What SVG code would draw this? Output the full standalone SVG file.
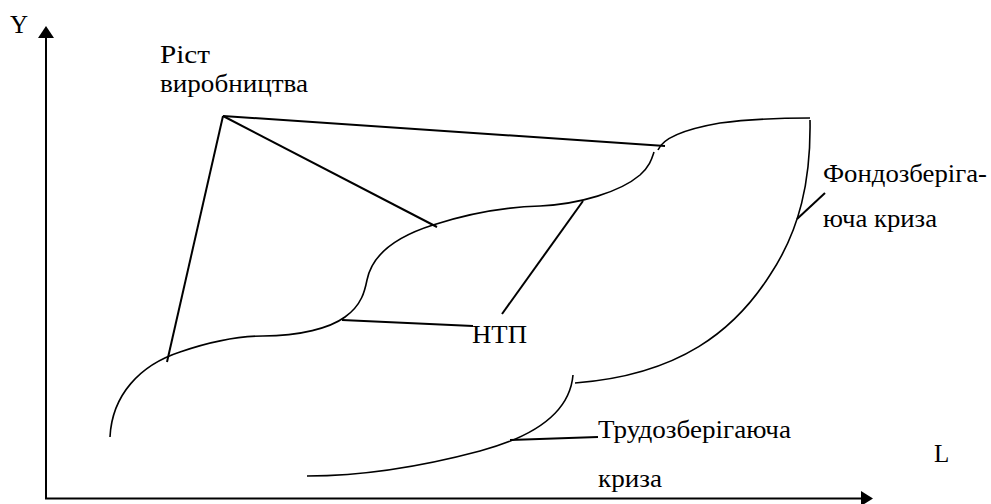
<svg xmlns="http://www.w3.org/2000/svg" width="991" height="504" viewBox="0 0 991 504">
<style>
.t{font-family:"Liberation Serif","Times New Roman",serif;font-size:25px;fill:#000}
.c{fill:none;stroke:#000;stroke-width:1.6}
.l{fill:none;stroke:#000;stroke-width:2}
</style>
<rect width="991" height="504" fill="#fff"/>
<g id="axes">
<line class="l" x1="46" y1="499" x2="46" y2="36"/>
<polygon points="38,38 46,26 54,38" fill="#000"/>
<line class="l" x1="45" y1="498.5" x2="863" y2="498.5"/>
<polygon points="861,491 873,498.5 861,506" fill="#000"/>
</g>
<g id="curves">
<path class="c" d="M110,437 C112,395 140,365 180,352 C215,340 240,336 263,336 C300,336 330,328 345,317 C362,305 365,290 367,280 C372,255 395,237 433,225 C470,213 505,207 540,206 C580,204 620,192 640,175 C650,166 652,158 654,152"/>
<path class="c" d="M658,150 C662,140 680,130 720,123 C750,119 785,118 810,118"/>
<path class="c" d="M810,120 C811,180 800,230 770,275 C735,330 680,375 575,383"/>
<path class="c" d="M573,375 C570,410 540,435 480,451 C420,467 360,476 307,476"/>
</g>
<g id="connectors">
<line class="l" x1="223" y1="116" x2="167" y2="362"/>
<line class="l" x1="223" y1="116" x2="665" y2="146"/>
<line class="l" x1="223" y1="116" x2="437" y2="227"/>
<line class="l" x1="342" y1="320" x2="473" y2="326"/>
<line class="l" x1="502" y1="314" x2="583" y2="201"/>
<line class="l" x1="510" y1="440" x2="598" y2="437"/>
<line class="l" x1="797" y1="219" x2="825" y2="193"/>
</g>
<g id="label-y"><text class="t" x="10" y="33">Y</text></g>
<g id="label-l"><text class="t" x="934" y="462">L</text></g>
<g id="node-rist"><text class="t" x="160" y="63" textLength="50" lengthAdjust="spacingAndGlyphs">Ріст</text><text class="t" x="160" y="92" textLength="148" lengthAdjust="spacingAndGlyphs">виробництва</text></g>
<g id="node-ntp"><text class="t" x="472" y="343" textLength="55" lengthAdjust="spacingAndGlyphs">НТП</text></g>
<g id="node-fondo"><text class="t" x="823" y="182" textLength="164" lengthAdjust="spacingAndGlyphs">Фондозберіга-</text><text class="t" x="823" y="227" textLength="114" lengthAdjust="spacingAndGlyphs">юча криза</text></g>
<g id="node-trudo"><text class="t" x="598" y="438" textLength="193" lengthAdjust="spacingAndGlyphs">Трудозберігаюча</text><text class="t" x="598" y="487" textLength="64" lengthAdjust="spacingAndGlyphs">криза</text></g>
</svg>
